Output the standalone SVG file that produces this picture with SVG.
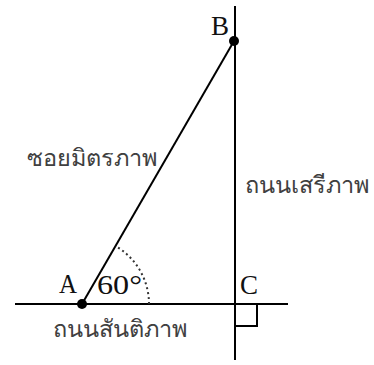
<svg xmlns="http://www.w3.org/2000/svg" width="374" height="365" viewBox="0 0 374 365">
<style>
.ln{stroke:#000;stroke-width:2;fill:none}
.lbl{font-family:"Liberation Serif","DejaVu Serif",serif;font-size:27px;fill:#111}
.th{font-family:"Noto Sans","DejaVu Sans",sans-serif;font-size:23.5px;fill:#404040}
</style>
<rect width="374" height="365" fill="#fff"/>
<g id="connectors">
<line class="ln" x1="15" y1="304" x2="288" y2="304"/>
<line class="ln" x1="235" y1="6" x2="235" y2="360"/>
<line class="ln" x1="82" y1="304" x2="234" y2="41"/>
<polyline class="ln" points="235,326 257,326 257,304"/>
<path d="M149,304 A67,67 0 0 0 115.5,246" stroke="#333" stroke-width="2" fill="none" stroke-dasharray="2 3"/>
</g>
<g id="A"><circle cx="82" cy="304" r="5" fill="#000"/><text class="lbl" x="59" y="293" textLength="18" lengthAdjust="spacingAndGlyphs">A</text></g>
<g id="B"><circle cx="234" cy="41" r="5" fill="#000"/><text class="lbl" x="211" y="35">B</text></g>
<g id="C"><text class="lbl" x="240" y="294">C</text></g>
<g id="angle"><text class="lbl" x="97" y="294" textLength="45" lengthAdjust="spacingAndGlyphs">60°</text></g>
<g id="road-labels">
<text class="th" x="27" y="166">ซอยมิตรภาพ</text>
<text class="th" x="245" y="193">ถนนเสรีภาพ</text>
<text class="th" x="53" y="337">ถนนสันติภาพ</text>
</g>
</svg>
